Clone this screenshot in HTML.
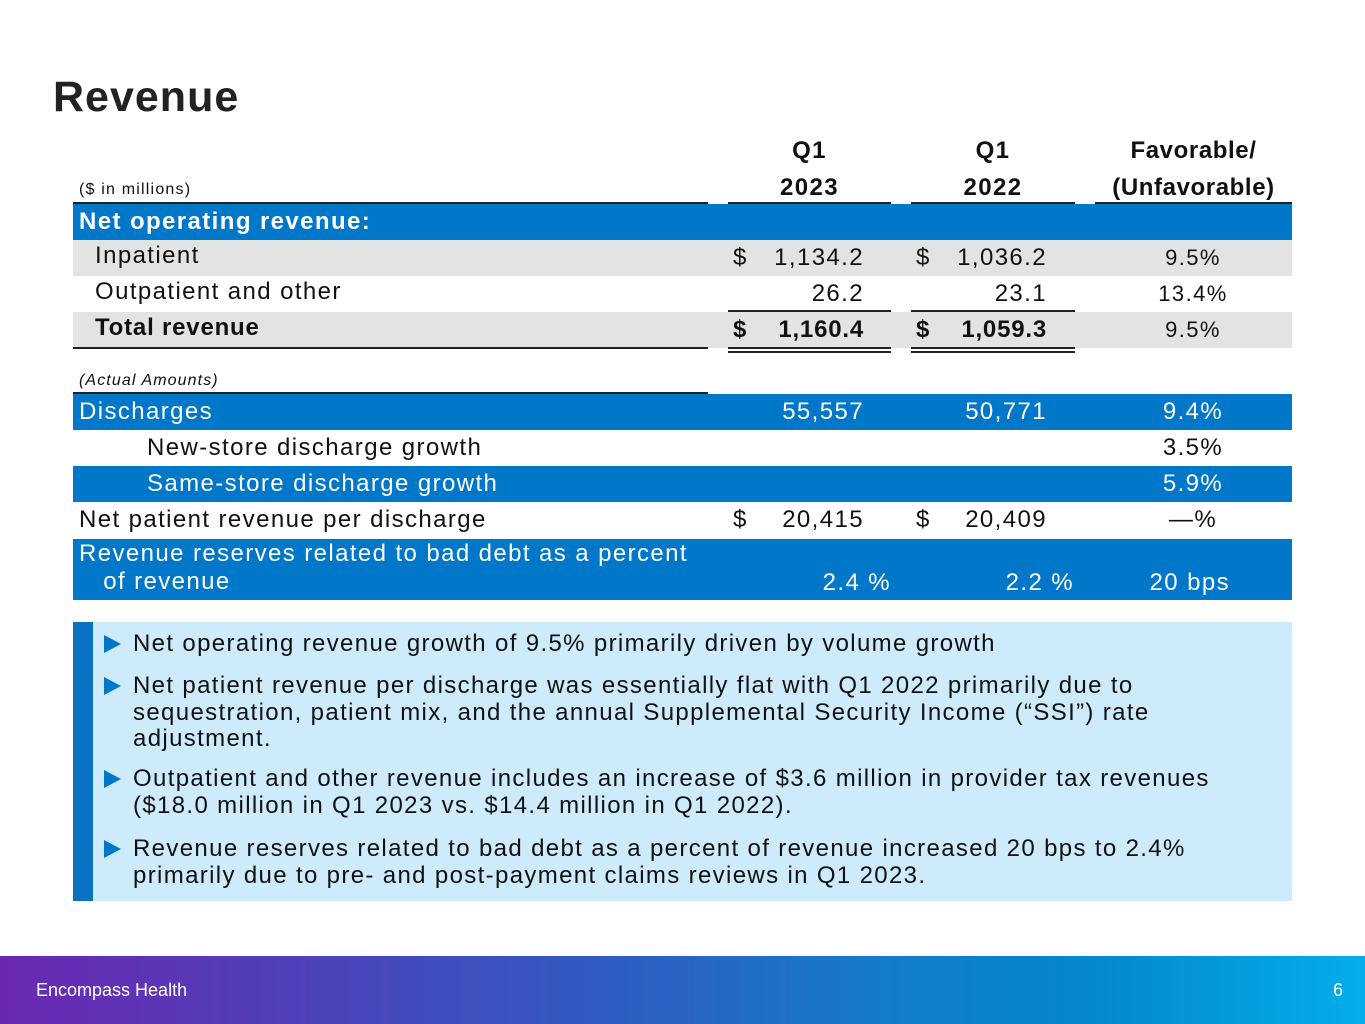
<!DOCTYPE html>
<html><head><meta charset="utf-8"><style>
*{margin:0;padding:0;box-sizing:border-box}
body{width:1365px;height:1024px;position:relative;background:#fff;font-family:"Liberation Sans",sans-serif;color:#111;overflow:hidden}
.a{position:absolute;white-space:nowrap}
.row{position:absolute;left:73px;width:1219px}
.blue{background:#0077c8;color:#fff}
.gray{background:#e3e3e3}
.t{position:absolute;font-size:24px;line-height:36px;white-space:nowrap;letter-spacing:1.4px}
.r{text-align:right;margin-right:-1.4px}
.c{text-align:center}
.ln{position:absolute;height:2px;background:#222}
.bl{position:absolute;font-size:24px;line-height:26.5px;left:133px;width:1150px;white-space:nowrap;letter-spacing:1.35px}
.tri{position:absolute;left:104px;width:0;height:0;border-top:9px solid transparent;border-bottom:9px solid transparent;border-left:17px solid #0077c8}
</style></head><body>
<div class="a" style="left:53px;top:73px;font-size:43px;font-weight:bold;color:#222;letter-spacing:1px">Revenue</div>

<div class="t c" style="left:728px;width:163px;top:132px;line-height:37px;font-weight:bold">Q1<br>2023</div>
<div class="t c" style="left:911px;width:164px;top:132px;line-height:37px;font-weight:bold">Q1<br>2022</div>
<div class="t c" style="left:1095px;width:197px;top:132px;line-height:37px;font-weight:bold;letter-spacing:0.6px">Favorable/<br>(Unfavorable)</div>
<div class="a" style="left:79px;top:181px;font-size:16px;letter-spacing:1.2px">($ in millions)</div>
<div class="ln" style="left:73px;width:635px;top:202px"></div>
<div class="ln" style="left:728px;width:163px;top:202px"></div>
<div class="ln" style="left:911px;width:164px;top:202px"></div>
<div class="ln" style="left:1095px;width:197px;top:202px"></div>

<div class="row blue" style="top:204px;height:36px"><div class="t" style="left:6px;font-weight:bold">Net operating revenue:</div></div>

<div class="row gray" style="top:240px;height:36px">
<div class="t" style="left:22px;top:-2px">Inpatient</div>
<div class="t" style="left:660px">$</div><div class="t r" style="left:690px;width:101px">1,134.2</div>
<div class="t" style="left:843px">$</div><div class="t r" style="left:873px;width:101px">1,036.2</div>
<div class="t c" style="left:1040px;width:160px;font-size:22px">9.5%</div></div>

<div class="row" style="top:276px;height:36px">
<div class="t" style="left:22px;top:-2px">Outpatient and other</div>
<div class="t r" style="left:690px;width:101px">26.2</div>
<div class="t r" style="left:873px;width:101px">23.1</div>
<div class="t c" style="left:1040px;width:160px;font-size:22px">13.4%</div></div>
<div class="ln" style="left:728px;width:163px;top:310px;height:1.5px"></div>
<div class="ln" style="left:911px;width:164px;top:310px;height:1.5px"></div>

<div class="row gray" style="top:312px;height:36px">
<div class="t" style="left:22px;top:-2px;font-weight:bold;letter-spacing:0.8px">Total revenue</div>
<div class="t" style="left:660px;font-weight:bold">$</div><div class="t r" style="left:690px;width:101px;font-weight:bold;letter-spacing:0.8px">1,160.4</div>
<div class="t" style="left:843px;font-weight:bold">$</div><div class="t r" style="left:873px;width:101px;font-weight:bold;letter-spacing:0.8px">1,059.3</div>
<div class="t c" style="left:1040px;width:160px;font-size:22px">9.5%</div></div>
<div class="ln" style="left:73px;width:635px;top:347px"></div>
<div class="ln" style="left:728px;width:163px;top:347px;height:1.5px"></div><div class="ln" style="left:728px;width:163px;top:351px;height:1.5px"></div>
<div class="ln" style="left:911px;width:164px;top:347px;height:1.5px"></div><div class="ln" style="left:911px;width:164px;top:351px;height:1.5px"></div>

<div class="a" style="left:79px;top:372px;font-size:16px;font-style:italic;letter-spacing:1.1px">(Actual Amounts)</div>
<div class="ln" style="left:73px;width:635px;top:392px"></div>

<div class="row blue" style="top:394px;height:36px">
<div class="t" style="left:6px">Discharges</div>
<div class="t r" style="left:690px;width:101px">55,557</div>
<div class="t r" style="left:873px;width:101px">50,771</div>
<div class="t c" style="left:1040px;width:160px">9.4%</div></div>

<div class="row" style="top:430px;height:36px">
<div class="t" style="left:74px">New-store discharge growth</div>
<div class="t c" style="left:1040px;width:160px">3.5%</div></div>

<div class="row blue" style="top:466px;height:36px">
<div class="t" style="left:74px">Same-store discharge growth</div>
<div class="t c" style="left:1040px;width:160px">5.9%</div></div>

<div class="row" style="top:502px;height:37px">
<div class="t" style="left:6px">Net patient revenue per discharge</div>
<div class="t" style="left:660px">$</div><div class="t r" style="left:690px;width:101px">20,415</div>
<div class="t" style="left:843px">$</div><div class="t r" style="left:873px;width:101px">20,409</div>
<div class="t c" style="left:1040px;width:160px">—%</div></div>

<div class="row blue" style="top:539px;height:61px">
<div class="t" style="left:6px;top:1px;line-height:28px">Revenue reserves related to bad debt as a percent<br>&nbsp;&nbsp;&nbsp;of revenue</div>
<div class="t r" style="left:690px;width:128px;top:26px">2.4 %</div>
<div class="t r" style="left:873px;width:128px;top:26px">2.2 %</div>
<div class="t r" style="left:1040px;width:117px;top:26px">20 bps</div></div>

<div class="a" style="left:73px;top:622px;width:1219px;height:279px;background:#cdebfb"></div>
<div class="a" style="left:73px;top:622px;width:20px;height:279px;background:#0a72c0"></div>

<div class="tri" style="top:635px"></div>
<div class="bl" style="top:631px">Net operating revenue growth of 9.5% primarily driven by volume growth</div>
<div class="tri" style="top:677px"></div>
<div class="bl" style="top:673px">Net patient revenue per discharge was essentially flat with Q1 2022 primarily due to<br>sequestration, patient mix, and the annual Supplemental Security Income (“SSI”) rate<br>adjustment.</div>
<div class="tri" style="top:770px"></div>
<div class="bl" style="top:766px">Outpatient and other revenue includes an increase of $3.6 million in provider tax revenues<br>($18.0 million in Q1 2023 vs. $14.4 million in Q1 2022).</div>
<div class="tri" style="top:840px"></div>
<div class="bl" style="top:836px">Revenue reserves related to bad debt as a percent of revenue increased 20 bps to 2.4%<br>primarily due to pre- and post-payment claims reviews in Q1 2023.</div>

<div class="a" style="left:0;top:956px;width:1365px;height:68px;background:linear-gradient(90deg,#6a28b2 0%,#4a44bb 25%,#2f5cc2 45%,#137ccc 65%,#0487cf 80%,#03aeea 100%)"></div>
<div class="a" style="left:36px;top:980px;font-size:18px;color:#fff">Encompass Health</div>
<div class="a" style="left:1333px;top:980px;font-size:18px;color:#fff">6</div>
</body></html>
